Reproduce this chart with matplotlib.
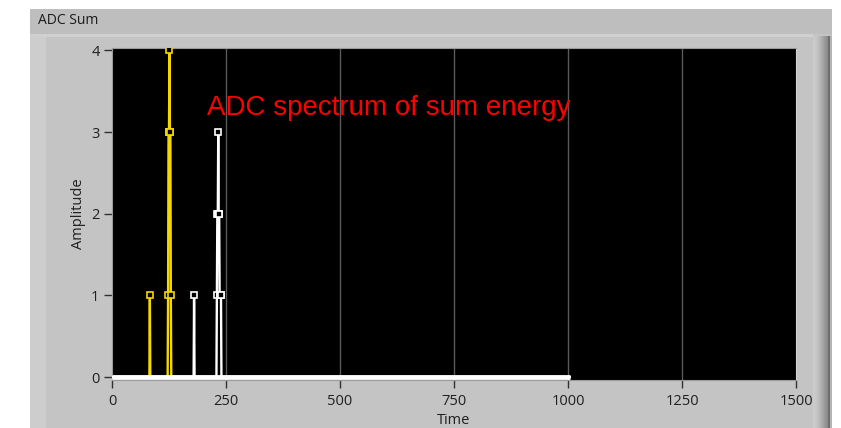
import numpy as np
import matplotlib.pyplot as plt
from matplotlib.patches import Rectangle

# histogram bins (time) and counts for the two channels
time_max = 1004
yellow_bins = [83, 123, 124, 125, 126, 127, 128, 129]
yellow_counts = [1, 1, 3, 3, 4, 3, 3, 1]
white_bins = [180, 230, 231, 232, 233, 234, 235, 236, 237, 238, 239]
white_counts = [1, 1, 2, 2, 3, 2, 2, 1, 1, 1, 1]

x_ticks = [0, 250, 500, 750, 1000, 1250, 1500]
y_ticks = [0, 1, 2, 3, 4]

W, H = 841, 428
fig = plt.figure(figsize=(W / 100, H / 100), dpi=100)
fig.patch.set_facecolor('white')


def px_rect(x0, y0, x1, y1, color):
    # rectangle in pixel coordinates measured from the top-left corner
    fig.patches.append(Rectangle((x0 / W, 1 - y1 / H), (x1 - x0) / W, (y1 - y0) / H,
                                 transform=fig.transFigure, facecolor=color,
                                 edgecolor='none', zorder=-5))


# LabVIEW style frame around the graph
px_rect(30, 9, 832, 428, '#c4c4c4')
px_rect(30, 9, 832, 34, '#bebebe')
px_rect(30, 34, 813, 37, '#d0d0d0')
px_rect(30, 37, 46, 428, '#cdcdcd')
px_rect(828, 36, 829.5, 428, '#6e6e6e')
px_rect(829.5, 36, 832, 428, '#b4b4b4')

# shaded right edge
shade = fig.add_axes([813 / W, 0, 15 / W, 1 - 36 / H])
grad = np.array([[0.80, 0.79, 0.77, 0.75, 0.72, 0.69, 0.66, 0.62, 0.58, 0.55]])
shade.imshow(grad, cmap='gray', vmin=0, vmax=1, aspect='auto', interpolation='bicubic')
shade.axis('off')

fig.text(38 / W, 1 - 21 / H, 'ADC Sum', fontsize=10, family='Open Sans',
         color='#1a1a1a', va='center', ha='left')

ax = fig.add_axes([112 / W, 1 - 380 / H, (796 - 112) / W, (380 - 48) / H])
ax.set_facecolor('black')

t = np.arange(time_max + 1)
yellow = np.zeros_like(t, dtype=float)
yellow[yellow_bins] = yellow_counts
white = np.zeros_like(t, dtype=float)
white[white_bins] = white_counts

ax.plot(t[:200], yellow[:200], color='#f5d800', lw=1.7, zorder=3)
ax.plot(yellow_bins, yellow_counts, ls='none', marker='s', ms=4.6, mfc='black',
        mec='#f5d800', mew=1.2, zorder=4)
ax.plot(t, white, color='white', lw=1.7, zorder=5)
ax.plot(white_bins, white_counts, ls='none', marker='s', ms=4.6, mfc='black',
        mec='white', mew=1.2, zorder=6)
ax.plot([0, time_max], [0, 0], color='white', lw=3.5, solid_capstyle='butt',
        zorder=7, clip_on=False)

ax.set_xlim(0, 1500)
ax.set_ylim(-0.035, 4.03)
ax.set_xticks(x_ticks)
ax.set_yticks(y_ticks)
for v in x_ticks[1:-1]:
    ax.axvline(v, color='#5a5a5a', lw=1, zorder=1)

ax.tick_params(direction='out', length=6, width=1, color='#303030',
               labelsize=10.5, labelcolor='#202020')
ax.tick_params(axis='x', pad=4)
ax.tick_params(axis='y', pad=3)
for lab in ax.get_xticklabels() + ax.get_yticklabels():
    lab.set_family('Open Sans')
for s in ax.spines.values():
    s.set_color('#9a9a9a')
ax.spines['right'].set_color('#d4d4d4')

ax.set_xlabel('Time', fontsize=10.5, family='Open Sans', color='#202020', labelpad=3)
ax.set_ylabel('Amplitude', fontsize=10.5, family='Open Sans', color='#202020', labelpad=4)

ax.text(208, 3.3, 'ADC spectrum of sum energy', color='#ff0000', fontsize=20,
        family='Liberation Sans', va='center', ha='left')

fig.savefig('out.png', dpi=100)
